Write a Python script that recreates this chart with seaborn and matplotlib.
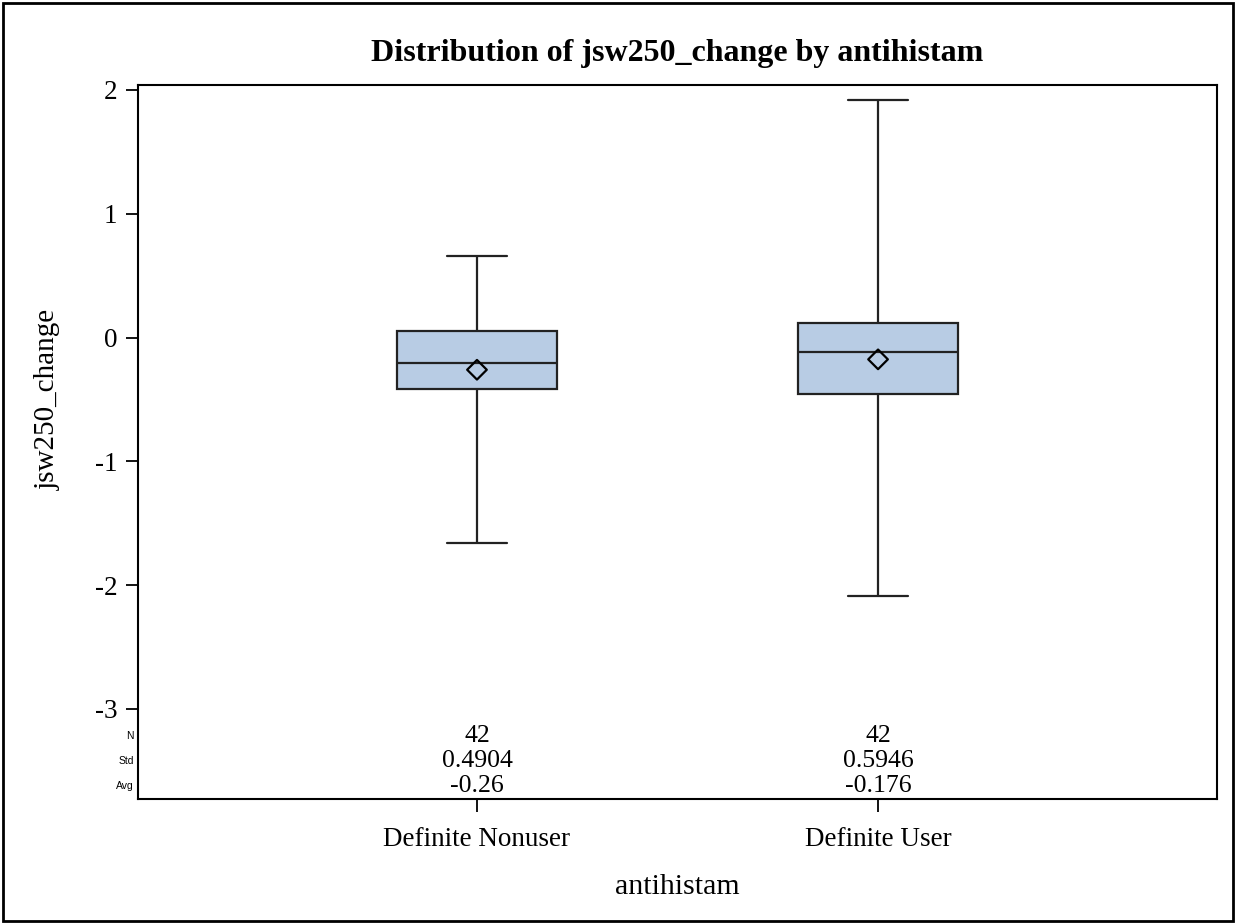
import matplotlib
matplotlib.use("Agg")
import matplotlib.pyplot as plt
import matplotlib.transforms as mtransforms
from matplotlib.patches import Rectangle
import numpy as np
import pandas as pd
import seaborn as sns

# data
groups = ["Definite Nonuser", "Definite User"]
whisker_low = [-1.656, -2.09]
q1 = [-0.412, -0.452]
median = [-0.202, -0.113]
q3 = [0.057, 0.121]
whisker_high = [0.662, 1.92]
means = [-0.26, -0.176]
n_obs = ["42", "42"]
std_labels = ["0.4904", "0.5946"]
avg_labels = ["-0.26", "-0.176"]

# five-number summary per group -> boxplot with whiskers at min / max
rows = []
for i, g in enumerate(groups):
    for v in [whisker_low[i], q1[i], median[i], q3[i], whisker_high[i]]:
        rows.append({"antihistam": g, "jsw250_change": v})
df = pd.DataFrame(rows)

sns.set_style("ticks")
plt.rcParams["font.family"] = ["Liberation Serif", "DejaVu Serif"]
plt.rcParams["axes.unicode_minus"] = False
plt.rcParams["text.color"] = "black"
plt.rcParams["axes.labelcolor"] = "black"
plt.rcParams["xtick.color"] = "black"
plt.rcParams["ytick.color"] = "black"

fig = plt.figure(figsize=(12.36, 9.24), dpi=100)
ax = fig.add_axes([0.1117, 0.1353, 0.8729, 0.7727])

sns.boxplot(data=df, x="antihistam", y="jsw250_change", whis=(0, 100),
            width=0.4, color="#b8cce4", saturation=1, linecolor="#222222",
            linewidth=1.6, fliersize=0, ax=ax)

# shorter caps like the reference
for line in ax.lines:
    xd = line.get_xdata()
    yd = line.get_ydata()
    if len(xd) == 2 and yd[0] == yd[1] and abs(xd[1] - xd[0] - 0.2) < 1e-6:
        c = (xd[0] + xd[1]) / 2
        line.set_xdata([c - 0.075, c + 0.075])

ax.scatter(range(len(groups)), means, marker="D", s=100, facecolors="none",
           edgecolors="black", linewidths=1.6, zorder=5)

ax.set_xlim(-0.845, 1.845)
ax.set_ylim(-3.727, 2.04)
ax.set_yticks([-3, -2, -1, 0, 1, 2])
ax.tick_params(axis="both", labelsize=19.5, length=9, width=1.3, color="black")
ax.tick_params(axis="x", pad=11)
ax.tick_params(axis="y", pad=6)
for s in ax.spines.values():
    s.set_linewidth(1.5)
    s.set_color("black")
    s.set_visible(True)

ax.set_title("Distribution of jsw250_change by antihistam", fontsize=23,
             fontweight="bold", pad=17)
ax.set_xlabel("antihistam", fontsize=21.5, labelpad=16)
ax.set_ylabel("jsw250_change", fontsize=21)
ax.yaxis.set_label_coords(-0.072, 0.56)

# statistics table inside the bottom of the plot
row_y = [-3.218, -3.42, -3.62]
row_names = ["N", "Std", "Avg"]
for i in range(len(groups)):
    for y, vals in zip(row_y, [n_obs, std_labels, avg_labels]):
        ax.text(i, y, vals[i], ha="center", va="center", fontsize=18.5)
trans = mtransforms.blended_transform_factory(ax.transAxes, ax.transData)
for y, name in zip(row_y, row_names):
    ax.text(-0.004, y, name, transform=trans, ha="right", va="center",
            fontsize=7.5, family=["Liberation Sans", "DejaVu Sans"])

# outer frame around the whole graph
fig.patches.append(Rectangle((0.0025, 0.0035), 0.995, 0.993, transform=fig.transFigure,
                             fill=False, edgecolor="black", linewidth=2))

fig.savefig("out.png", dpi=100)
